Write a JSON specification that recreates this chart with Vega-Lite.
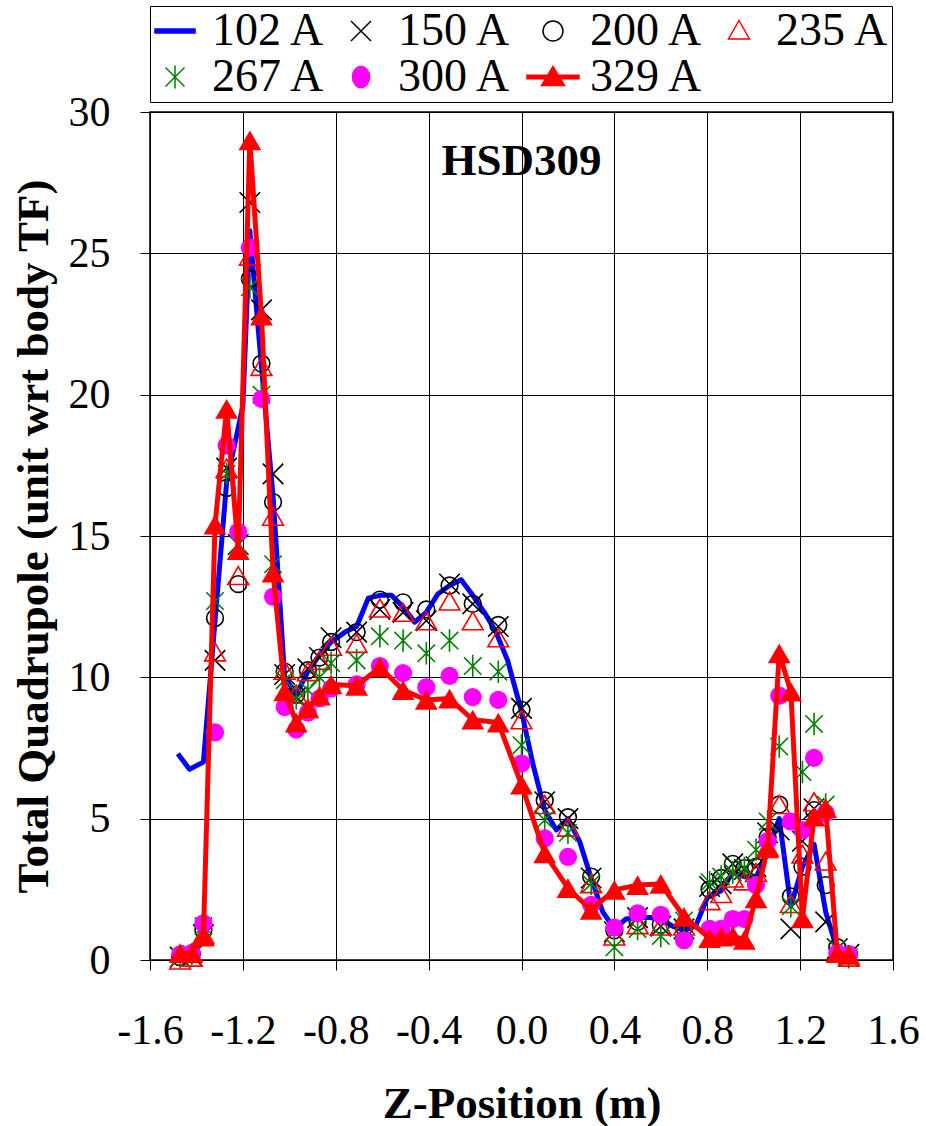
{
  "$schema": "https://vega.github.io/schema/vega-lite/v6.json",
  "autosize": {"type": "none"},
  "padding": {"left": 150, "top": 112, "right": 33, "bottom": 166},
  "width": 743,
  "height": 848,
  "background": "white",
  "datasets": {
    "quad": [
      {"z": -1.48, "q": 7.3, "s": "102 A"}, {"z": -1.43, "q": 6.75, "s": "102 A"}, {"z": -1.37, "q": 7.0, "s": "102 A"},
      {"z": -1.32, "q": 12.0, "s": "102 A"}, {"z": -1.27, "q": 16.9, "s": "102 A"}, {"z": -1.2, "q": 19.6, "s": "102 A"},
      {"z": -1.17, "q": 25.8, "s": "102 A"}, {"z": -1.12, "q": 21.0, "s": "102 A"}, {"z": -1.07, "q": 16.4, "s": "102 A"},
      {"z": -1.02, "q": 10.0, "s": "102 A"}, {"z": -0.97, "q": 9.4, "s": "102 A"}, {"z": -0.92, "q": 10.2, "s": "102 A"},
      {"z": -0.87, "q": 10.8, "s": "102 A"}, {"z": -0.82, "q": 11.25, "s": "102 A"}, {"z": -0.76, "q": 11.6, "s": "102 A"},
      {"z": -0.71, "q": 11.8, "s": "102 A"}, {"z": -0.66, "q": 12.8, "s": "102 A"}, {"z": -0.61, "q": 12.9, "s": "102 A"},
      {"z": -0.56, "q": 12.9, "s": "102 A"}, {"z": -0.51, "q": 12.5, "s": "102 A"}, {"z": -0.46, "q": 11.95, "s": "102 A"},
      {"z": -0.41, "q": 12.3, "s": "102 A"}, {"z": -0.36, "q": 12.95, "s": "102 A"}, {"z": -0.31, "q": 13.25, "s": "102 A"},
      {"z": -0.26, "q": 13.45, "s": "102 A"}, {"z": -0.21, "q": 12.9, "s": "102 A"}, {"z": -0.16, "q": 12.3, "s": "102 A"},
      {"z": -0.11, "q": 11.6, "s": "102 A"}, {"z": -0.06, "q": 10.6, "s": "102 A"}, {"z": 0.0, "q": 8.8, "s": "102 A"},
      {"z": 0.05, "q": 6.9, "s": "102 A"}, {"z": 0.1, "q": 5.3, "s": "102 A"}, {"z": 0.15, "q": 4.6, "s": "102 A"},
      {"z": 0.2, "q": 5.0, "s": "102 A"}, {"z": 0.25, "q": 4.2, "s": "102 A"}, {"z": 0.3, "q": 2.9, "s": "102 A"},
      {"z": 0.35, "q": 1.7, "s": "102 A"}, {"z": 0.4, "q": 1.1, "s": "102 A"}, {"z": 0.45, "q": 1.45, "s": "102 A"},
      {"z": 0.5, "q": 1.5, "s": "102 A"}, {"z": 0.55, "q": 1.5, "s": "102 A"}, {"z": 0.6, "q": 1.45, "s": "102 A"},
      {"z": 0.65, "q": 1.2, "s": "102 A"}, {"z": 0.7, "q": 1.05, "s": "102 A"}, {"z": 0.75, "q": 1.2, "s": "102 A"},
      {"z": 0.8, "q": 2.2, "s": "102 A"}, {"z": 0.86, "q": 2.45, "s": "102 A"}, {"z": 0.91, "q": 3.1, "s": "102 A"},
      {"z": 0.96, "q": 2.95, "s": "102 A"}, {"z": 1.01, "q": 2.9, "s": "102 A"}, {"z": 1.06, "q": 3.9, "s": "102 A"},
      {"z": 1.11, "q": 5.0, "s": "102 A"}, {"z": 1.16, "q": 1.9, "s": "102 A"}, {"z": 1.21, "q": 3.3, "s": "102 A"},
      {"z": 1.26, "q": 4.1, "s": "102 A"}, {"z": 1.31, "q": 1.7, "s": "102 A"}, {"z": 1.36, "q": 0.35, "s": "102 A"},
      {"z": 1.41, "q": 0.15, "s": "102 A"},

      {"z": -1.47, "q": 0.1, "s": "150 A"}, {"z": -1.42, "q": 0.15, "s": "150 A"}, {"z": -1.37, "q": 0.9, "s": "150 A"},
      {"z": -1.32, "q": 10.6, "s": "150 A"}, {"z": -1.27, "q": 17.4, "s": "150 A"}, {"z": -1.22, "q": 14.7, "s": "150 A"},
      {"z": -1.17, "q": 26.8, "s": "150 A"}, {"z": -1.12, "q": 23.0, "s": "150 A"}, {"z": -1.07, "q": 17.2, "s": "150 A"},
      {"z": -1.02, "q": 10.1, "s": "150 A"}, {"z": -0.97, "q": 9.3, "s": "150 A"}, {"z": -0.92, "q": 10.3, "s": "150 A"},
      {"z": -0.87, "q": 10.7, "s": "150 A"}, {"z": -0.82, "q": 11.4, "s": "150 A"}, {"z": -0.71, "q": 11.6, "s": "150 A"},
      {"z": -0.61, "q": 12.4, "s": "150 A"}, {"z": -0.51, "q": 12.3, "s": "150 A"}, {"z": -0.41, "q": 12.0, "s": "150 A"},
      {"z": -0.31, "q": 13.3, "s": "150 A"}, {"z": -0.21, "q": 12.6, "s": "150 A"}, {"z": -0.1, "q": 11.8, "s": "150 A"},
      {"z": 0.0, "q": 8.9, "s": "150 A"}, {"z": 0.1, "q": 5.6, "s": "150 A"}, {"z": 0.2, "q": 5.0, "s": "150 A"},
      {"z": 0.3, "q": 2.9, "s": "150 A"}, {"z": 0.4, "q": 1.0, "s": "150 A"}, {"z": 0.5, "q": 1.5, "s": "150 A"},
      {"z": 0.6, "q": 1.2, "s": "150 A"}, {"z": 0.7, "q": 1.1, "s": "150 A"}, {"z": 0.81, "q": 2.6, "s": "150 A"},
      {"z": 0.86, "q": 2.7, "s": "150 A"}, {"z": 0.91, "q": 3.4, "s": "150 A"}, {"z": 0.96, "q": 3.2, "s": "150 A"},
      {"z": 1.01, "q": 3.3, "s": "150 A"}, {"z": 1.06, "q": 4.5, "s": "150 A"}, {"z": 1.11, "q": 4.6, "s": "150 A"},
      {"z": 1.16, "q": 1.1, "s": "150 A"}, {"z": 1.21, "q": 4.2, "s": "150 A"}, {"z": 1.26, "q": 5.35, "s": "150 A"},
      {"z": 1.31, "q": 1.35, "s": "150 A"}, {"z": 1.36, "q": 0.4, "s": "150 A"}, {"z": 1.41, "q": 0.2, "s": "150 A"},

      {"z": -1.47, "q": 0.1, "s": "200 A"}, {"z": -1.42, "q": 0.2, "s": "200 A"}, {"z": -1.37, "q": 1.05, "s": "200 A"},
      {"z": -1.32, "q": 12.1, "s": "200 A"}, {"z": -1.27, "q": 16.7, "s": "200 A"}, {"z": -1.22, "q": 13.3, "s": "200 A"},
      {"z": -1.17, "q": 24.1, "s": "200 A"}, {"z": -1.12, "q": 21.1, "s": "200 A"}, {"z": -1.07, "q": 16.2, "s": "200 A"},
      {"z": -1.02, "q": 10.2, "s": "200 A"}, {"z": -0.97, "q": 9.4, "s": "200 A"}, {"z": -0.92, "q": 10.25, "s": "200 A"},
      {"z": -0.87, "q": 10.7, "s": "200 A"}, {"z": -0.82, "q": 11.25, "s": "200 A"}, {"z": -0.71, "q": 11.6, "s": "200 A"},
      {"z": -0.61, "q": 12.75, "s": "200 A"}, {"z": -0.51, "q": 12.65, "s": "200 A"}, {"z": -0.41, "q": 12.4, "s": "200 A"},
      {"z": -0.31, "q": 13.25, "s": "200 A"}, {"z": -0.21, "q": 12.6, "s": "200 A"}, {"z": -0.1, "q": 11.85, "s": "200 A"},
      {"z": 0.0, "q": 8.85, "s": "200 A"}, {"z": 0.1, "q": 5.65, "s": "200 A"}, {"z": 0.2, "q": 5.05, "s": "200 A"},
      {"z": 0.3, "q": 2.95, "s": "200 A"}, {"z": 0.4, "q": 1.05, "s": "200 A"}, {"z": 0.5, "q": 1.35, "s": "200 A"},
      {"z": 0.6, "q": 1.25, "s": "200 A"}, {"z": 0.7, "q": 1.15, "s": "200 A"}, {"z": 0.81, "q": 2.5, "s": "200 A"},
      {"z": 0.86, "q": 2.9, "s": "200 A"}, {"z": 0.91, "q": 3.4, "s": "200 A"}, {"z": 0.96, "q": 3.25, "s": "200 A"},
      {"z": 1.01, "q": 3.3, "s": "200 A"}, {"z": 1.06, "q": 4.35, "s": "200 A"}, {"z": 1.11, "q": 5.5, "s": "200 A"},
      {"z": 1.16, "q": 2.25, "s": "200 A"}, {"z": 1.21, "q": 3.3, "s": "200 A"}, {"z": 1.26, "q": 5.3, "s": "200 A"},
      {"z": 1.31, "q": 2.65, "s": "200 A"}, {"z": 1.36, "q": 0.45, "s": "200 A"}, {"z": 1.41, "q": 0.2, "s": "200 A"},

      {"z": -1.47, "q": 0.0, "s": "235 A"}, {"z": -1.42, "q": 0.1, "s": "235 A"}, {"z": -1.37, "q": 0.9, "s": "235 A"},
      {"z": -1.32, "q": 10.9, "s": "235 A"}, {"z": -1.27, "q": 17.4, "s": "235 A"}, {"z": -1.22, "q": 13.6, "s": "235 A"},
      {"z": -1.17, "q": 24.9, "s": "235 A"}, {"z": -1.12, "q": 21.0, "s": "235 A"}, {"z": -1.07, "q": 15.7, "s": "235 A"},
      {"z": -1.02, "q": 10.25, "s": "235 A"}, {"z": -0.97, "q": 9.4, "s": "235 A"}, {"z": -0.92, "q": 10.2, "s": "235 A"},
      {"z": -0.87, "q": 10.6, "s": "235 A"}, {"z": -0.82, "q": 11.1, "s": "235 A"}, {"z": -0.71, "q": 11.2, "s": "235 A"},
      {"z": -0.61, "q": 12.45, "s": "235 A"}, {"z": -0.51, "q": 12.3, "s": "235 A"}, {"z": -0.41, "q": 12.0, "s": "235 A"},
      {"z": -0.31, "q": 12.7, "s": "235 A"}, {"z": -0.21, "q": 12.0, "s": "235 A"}, {"z": -0.1, "q": 11.4, "s": "235 A"},
      {"z": 0.0, "q": 8.5, "s": "235 A"}, {"z": 0.1, "q": 5.5, "s": "235 A"}, {"z": 0.2, "q": 4.7, "s": "235 A"},
      {"z": 0.3, "q": 2.7, "s": "235 A"}, {"z": 0.4, "q": 0.85, "s": "235 A"}, {"z": 0.5, "q": 1.25, "s": "235 A"},
      {"z": 0.6, "q": 1.2, "s": "235 A"}, {"z": 0.7, "q": 1.2, "s": "235 A"}, {"z": 0.81, "q": 2.1, "s": "235 A"},
      {"z": 0.86, "q": 2.35, "s": "235 A"}, {"z": 0.91, "q": 2.9, "s": "235 A"}, {"z": 0.96, "q": 2.8, "s": "235 A"},
      {"z": 1.01, "q": 3.1, "s": "235 A"}, {"z": 1.06, "q": 4.0, "s": "235 A"}, {"z": 1.11, "q": 5.5, "s": "235 A"},
      {"z": 1.16, "q": 2.0, "s": "235 A"}, {"z": 1.21, "q": 3.75, "s": "235 A"}, {"z": 1.26, "q": 5.6, "s": "235 A"},
      {"z": 1.31, "q": 3.5, "s": "235 A"}, {"z": 1.36, "q": 0.25, "s": "235 A"}, {"z": 1.41, "q": 0.1, "s": "235 A"},

      {"z": -1.47, "q": 0.1, "s": "267 A"}, {"z": -1.42, "q": 0.2, "s": "267 A"}, {"z": -1.37, "q": 1.2, "s": "267 A"},
      {"z": -1.32, "q": 12.7, "s": "267 A"}, {"z": -1.27, "q": 17.2, "s": "267 A"}, {"z": -1.22, "q": 14.7, "s": "267 A"},
      {"z": -1.17, "q": 23.8, "s": "267 A"}, {"z": -1.12, "q": 20.0, "s": "267 A"}, {"z": -1.07, "q": 14.0, "s": "267 A"},
      {"z": -1.02, "q": 9.9, "s": "267 A"}, {"z": -0.97, "q": 9.25, "s": "267 A"}, {"z": -0.92, "q": 9.55, "s": "267 A"},
      {"z": -0.87, "q": 10.0, "s": "267 A"}, {"z": -0.82, "q": 10.5, "s": "267 A"}, {"z": -0.71, "q": 10.6, "s": "267 A"},
      {"z": -0.61, "q": 11.45, "s": "267 A"}, {"z": -0.51, "q": 11.3, "s": "267 A"}, {"z": -0.41, "q": 10.85, "s": "267 A"},
      {"z": -0.31, "q": 11.3, "s": "267 A"}, {"z": -0.21, "q": 10.4, "s": "267 A"}, {"z": -0.1, "q": 10.2, "s": "267 A"},
      {"z": 0.0, "q": 7.6, "s": "267 A"}, {"z": 0.1, "q": 4.95, "s": "267 A"}, {"z": 0.2, "q": 4.5, "s": "267 A"},
      {"z": 0.3, "q": 2.7, "s": "267 A"}, {"z": 0.4, "q": 0.45, "s": "267 A"}, {"z": 0.5, "q": 1.1, "s": "267 A"},
      {"z": 0.6, "q": 0.85, "s": "267 A"}, {"z": 0.7, "q": 1.4, "s": "267 A"}, {"z": 0.81, "q": 2.75, "s": "267 A"},
      {"z": 0.86, "q": 2.95, "s": "267 A"}, {"z": 0.91, "q": 3.1, "s": "267 A"}, {"z": 0.96, "q": 3.25, "s": "267 A"},
      {"z": 1.01, "q": 3.9, "s": "267 A"}, {"z": 1.06, "q": 4.9, "s": "267 A"}, {"z": 1.11, "q": 7.55, "s": "267 A"},
      {"z": 1.16, "q": 1.9, "s": "267 A"}, {"z": 1.21, "q": 6.65, "s": "267 A"}, {"z": 1.26, "q": 8.35, "s": "267 A"},
      {"z": 1.31, "q": 5.5, "s": "267 A"}, {"z": 1.36, "q": 0.4, "s": "267 A"}, {"z": 1.41, "q": 0.1, "s": "267 A"},

      {"z": -1.47, "q": 0.2, "s": "300 A"}, {"z": -1.42, "q": 0.25, "s": "300 A"}, {"z": -1.37, "q": 1.3, "s": "300 A"},
      {"z": -1.32, "q": 8.05, "s": "300 A"}, {"z": -1.27, "q": 18.2, "s": "300 A"}, {"z": -1.22, "q": 15.15, "s": "300 A"},
      {"z": -1.17, "q": 25.2, "s": "300 A"}, {"z": -1.12, "q": 19.85, "s": "300 A"}, {"z": -1.07, "q": 12.85, "s": "300 A"},
      {"z": -1.02, "q": 8.95, "s": "300 A"}, {"z": -0.97, "q": 8.15, "s": "300 A"}, {"z": -0.92, "q": 8.75, "s": "300 A"},
      {"z": -0.87, "q": 9.25, "s": "300 A"}, {"z": -0.82, "q": 9.6, "s": "300 A"}, {"z": -0.71, "q": 9.75, "s": "300 A"},
      {"z": -0.61, "q": 10.4, "s": "300 A"}, {"z": -0.51, "q": 10.15, "s": "300 A"}, {"z": -0.41, "q": 9.65, "s": "300 A"},
      {"z": -0.31, "q": 10.05, "s": "300 A"}, {"z": -0.21, "q": 9.3, "s": "300 A"}, {"z": -0.1, "q": 9.2, "s": "300 A"},
      {"z": 0.0, "q": 6.95, "s": "300 A"}, {"z": 0.1, "q": 4.3, "s": "300 A"}, {"z": 0.2, "q": 3.65, "s": "300 A"},
      {"z": 0.3, "q": 1.95, "s": "300 A"}, {"z": 0.4, "q": 1.15, "s": "300 A"}, {"z": 0.5, "q": 1.65, "s": "300 A"},
      {"z": 0.6, "q": 1.6, "s": "300 A"}, {"z": 0.7, "q": 0.7, "s": "300 A"}, {"z": 0.81, "q": 1.1, "s": "300 A"},
      {"z": 0.86, "q": 1.1, "s": "300 A"}, {"z": 0.91, "q": 1.45, "s": "300 A"}, {"z": 0.96, "q": 1.45, "s": "300 A"},
      {"z": 1.01, "q": 2.65, "s": "300 A"}, {"z": 1.06, "q": 4.2, "s": "300 A"}, {"z": 1.11, "q": 9.35, "s": "300 A"},
      {"z": 1.16, "q": 4.9, "s": "300 A"}, {"z": 1.21, "q": 4.6, "s": "300 A"}, {"z": 1.26, "q": 7.15, "s": "300 A"},
      {"z": 1.31, "q": 5.2, "s": "300 A"}, {"z": 1.36, "q": 0.25, "s": "300 A"}, {"z": 1.41, "q": 0.2, "s": "300 A"},

      {"z": -1.47, "q": 0.24, "s": "329 A"}, {"z": -1.42, "q": 0.24, "s": "329 A"}, {"z": -1.37, "q": 0.83, "s": "329 A"},
      {"z": -1.32, "q": 15.4, "s": "329 A"}, {"z": -1.27, "q": 19.5, "s": "329 A"}, {"z": -1.22, "q": 14.5, "s": "329 A"},
      {"z": -1.17, "q": 29.0, "s": "329 A"}, {"z": -1.12, "q": 22.8, "s": "329 A"}, {"z": -1.07, "q": 13.7, "s": "329 A"},
      {"z": -1.02, "q": 9.5, "s": "329 A"}, {"z": -0.97, "q": 8.4, "s": "329 A"}, {"z": -0.92, "q": 8.9, "s": "329 A"},
      {"z": -0.87, "q": 9.35, "s": "329 A"}, {"z": -0.82, "q": 9.75, "s": "329 A"}, {"z": -0.71, "q": 9.7, "s": "329 A"},
      {"z": -0.61, "q": 10.35, "s": "329 A"}, {"z": -0.51, "q": 9.55, "s": "329 A"}, {"z": -0.41, "q": 9.2, "s": "329 A"},
      {"z": -0.31, "q": 9.25, "s": "329 A"}, {"z": -0.21, "q": 8.5, "s": "329 A"}, {"z": -0.1, "q": 8.4, "s": "329 A"},
      {"z": 0.0, "q": 6.2, "s": "329 A"}, {"z": 0.1, "q": 3.77, "s": "329 A"}, {"z": 0.2, "q": 2.54, "s": "329 A"},
      {"z": 0.3, "q": 1.77, "s": "329 A"}, {"z": 0.4, "q": 2.48, "s": "329 A"}, {"z": 0.5, "q": 2.65, "s": "329 A"},
      {"z": 0.6, "q": 2.69, "s": "329 A"}, {"z": 0.7, "q": 1.53, "s": "329 A"}, {"z": 0.81, "q": 0.77, "s": "329 A"},
      {"z": 0.86, "q": 0.83, "s": "329 A"}, {"z": 0.91, "q": 0.85, "s": "329 A"}, {"z": 0.96, "q": 0.71, "s": "329 A"},
      {"z": 1.01, "q": 2.18, "s": "329 A"}, {"z": 1.06, "q": 3.95, "s": "329 A"}, {"z": 1.11, "q": 10.85, "s": "329 A"},
      {"z": 1.16, "q": 9.49, "s": "329 A"}, {"z": 1.21, "q": 1.47, "s": "329 A"}, {"z": 1.26, "q": 5.07, "s": "329 A"},
      {"z": 1.31, "q": 5.37, "s": "329 A"}, {"z": 1.36, "q": 0.24, "s": "329 A"}, {"z": 1.41, "q": 0.18, "s": "329 A"}
    ],
    "caption": [{"label": "HSD309"}]
  },
  "layer": [
    {
      "data": {"name": "quad"},
      "encoding": {
        "x": {
          "field": "z", "type": "quantitative",
          "scale": {"domain": [-1.6, 1.6], "nice": false, "zero": false},
          "axis": {
            "title": "Z-Position (m)",
            "values": [-1.6, -1.2, -0.8, -0.4, 0, 0.4, 0.8, 1.2, 1.6],
            "format": ".1f",
            "labelExpr": "replace(datum.label, '\u2212', '-')",
            "labelPadding": 40,
            "titlePadding": 30
          }
        },
        "y": {
          "field": "q", "type": "quantitative",
          "scale": {"domain": [0, 30], "nice": false},
          "axis": {
            "title": "Total Quadrupole (unit wrt body TF)",
            "values": [0, 5, 10, 15, 20, 25, 30],
            "format": "d",
            "labelPadding": 30,
            "titlePadding": 12
          }
        }
      },
      "layer": [
        {
          "transform": [{"filter": "datum.s === '102 A'"}],
          "mark": {"type": "line", "color": "#0000ff", "strokeWidth": 5, "strokeJoin": "round"}
        },
        {
          "transform": [{"filter": "datum.s === '150 A'"}],
          "mark": {"type": "point", "shape": "M-1,-1L1,1M-1,1L1,-1", "size": 420, "filled": false, "color": "#000000", "strokeWidth": 1.6, "opacity": 1}
        },
        {
          "transform": [{"filter": "datum.s === '200 A'"}],
          "mark": {"type": "point", "shape": "circle", "size": 280, "filled": false, "color": "#000000", "strokeWidth": 1.6, "opacity": 1}
        },
        {
          "transform": [{"filter": "datum.s === '235 A'"}],
          "mark": {"type": "point", "shape": "triangle-up", "size": 430, "filled": false, "color": "#ff0000", "strokeWidth": 1.6, "opacity": 1}
        },
        {
          "transform": [{"filter": "datum.s === '267 A'"}],
          "mark": {"type": "point", "shape": "M-0.85,-0.85L0.85,0.85M-0.85,0.85L0.85,-0.85M0,-1.1L0,1.1", "size": 420, "filled": false, "color": "#008000", "strokeWidth": 1.6, "opacity": 1}
        },
        {
          "transform": [{"filter": "datum.s === '300 A'"}],
          "mark": {"type": "point", "shape": "circle", "size": 330, "filled": true, "color": "#ff00ff", "opacity": 1}
        },
        {
          "transform": [{"filter": "datum.s === '329 A'"}],
          "mark": {
            "type": "line", "color": "#ff0000", "strokeWidth": 5, "strokeJoin": "round",
            "point": {"filled": true, "shape": "triangle-up", "size": 520, "color": "#ff0000", "opacity": 1}
          }
        },
        {
          "transform": [{"filter": "false"}],
          "mark": {"type": "point", "opacity": 1},
          "encoding": {
            "fill": {
              "field": "s", "type": "nominal",
              "scale": {
                "domain": ["102 A", "150 A", "200 A", "235 A", "267 A", "300 A", "329 A"],
                "range": ["#0000ff", "transparent", "transparent", "transparent", "transparent", "#ff00ff", "#ff0000"]
              },
              "legend": {
                "orient": "none",
                "legendX": 0,
                "legendY": -106,
                "direction": "horizontal",
                "columns": 4,
                "title": null,
                "labelFont": "Liberation Serif",
                "labelFontSize": 46,
                "labelColor": "#000000",
                "labelOffset": 14,
                "columnPadding": 12,
                "rowPadding": -6,
                "padding": 2,
                "symbolSize": 400,
                "symbolStrokeWidth": 1.5,
                "symbolOpacity": 1,
                "strokeColor": "#000000",
                "fillColor": "#ffffff"
              }
            },
            "stroke": {
              "field": "s", "type": "nominal",
              "scale": {
                "domain": ["102 A", "150 A", "200 A", "235 A", "267 A", "300 A", "329 A"],
                "range": ["#0000ff", "#000000", "#000000", "#ff0000", "#008000", "#ff00ff", "#ff0000"]
              },
              "legend": {"orient": "none", "title": null}
            },
            "shape": {
              "field": "s", "type": "nominal",
              "scale": {
                "domain": ["102 A", "150 A", "200 A", "235 A", "267 A", "300 A", "329 A"],
                "range": [
                  "M-2,-0.2L2,-0.2L2,0.2L-2,0.2Z",
                  "M-1,-1L1,1M-1,1L1,-1",
                  "M1,0A1,1,0,1,1,-1,0A1,1,0,1,1,1,0Z",
                  "M0,-1.05L1.05,0.8L-1.05,0.8Z",
                  "M-0.95,-0.95L0.95,0.95M-0.95,0.95L0.95,-0.95M0,-1.15L0,1.15",
                  "M0.85,0A0.85,1.05,0,1,1,-0.85,0A0.85,1.05,0,1,1,0.85,0Z",
                  "M-2.6,-0.18L2.6,-0.18L2.6,0.18L-2.6,0.18ZM0,-1.05L1.15,0.85L-1.15,0.85Z"
                ]
              },
              "legend": {"orient": "none", "title": null}
            }
          }
        }
      ]
    },
    {
      "data": {"name": "caption"},
      "mark": {"type": "text", "font": "Liberation Serif", "fontWeight": "bold", "fontSize": 45, "color": "#000000", "baseline": "middle", "align": "center"},
      "encoding": {
        "x": {"datum": 0, "type": "quantitative"},
        "y": {"datum": 28.25, "type": "quantitative"},
        "text": {"field": "label", "type": "nominal"}
      }
    }
  ],
  "config": {
    "view": {"stroke": "#000000", "strokeWidth": 1.5},
    "axis": {
      "labelFont": "Liberation Serif",
      "labelFontSize": 42,
      "labelColor": "#000000",
      "titleFont": "Liberation Serif",
      "titleFontSize": 45,
      "titleFontWeight": "bold",
      "titleColor": "#000000",
      "grid": true,
      "gridColor": "#000000",
      "gridOpacity": 1,
      "gridWidth": 1,
      "domain": false,
      "ticks": true,
      "tickSize": 10,
      "tickColor": "#000000",
      "tickWidth": 1,
      "labelOverlap": false,
      "labelFlush": false
    }
  }
}
